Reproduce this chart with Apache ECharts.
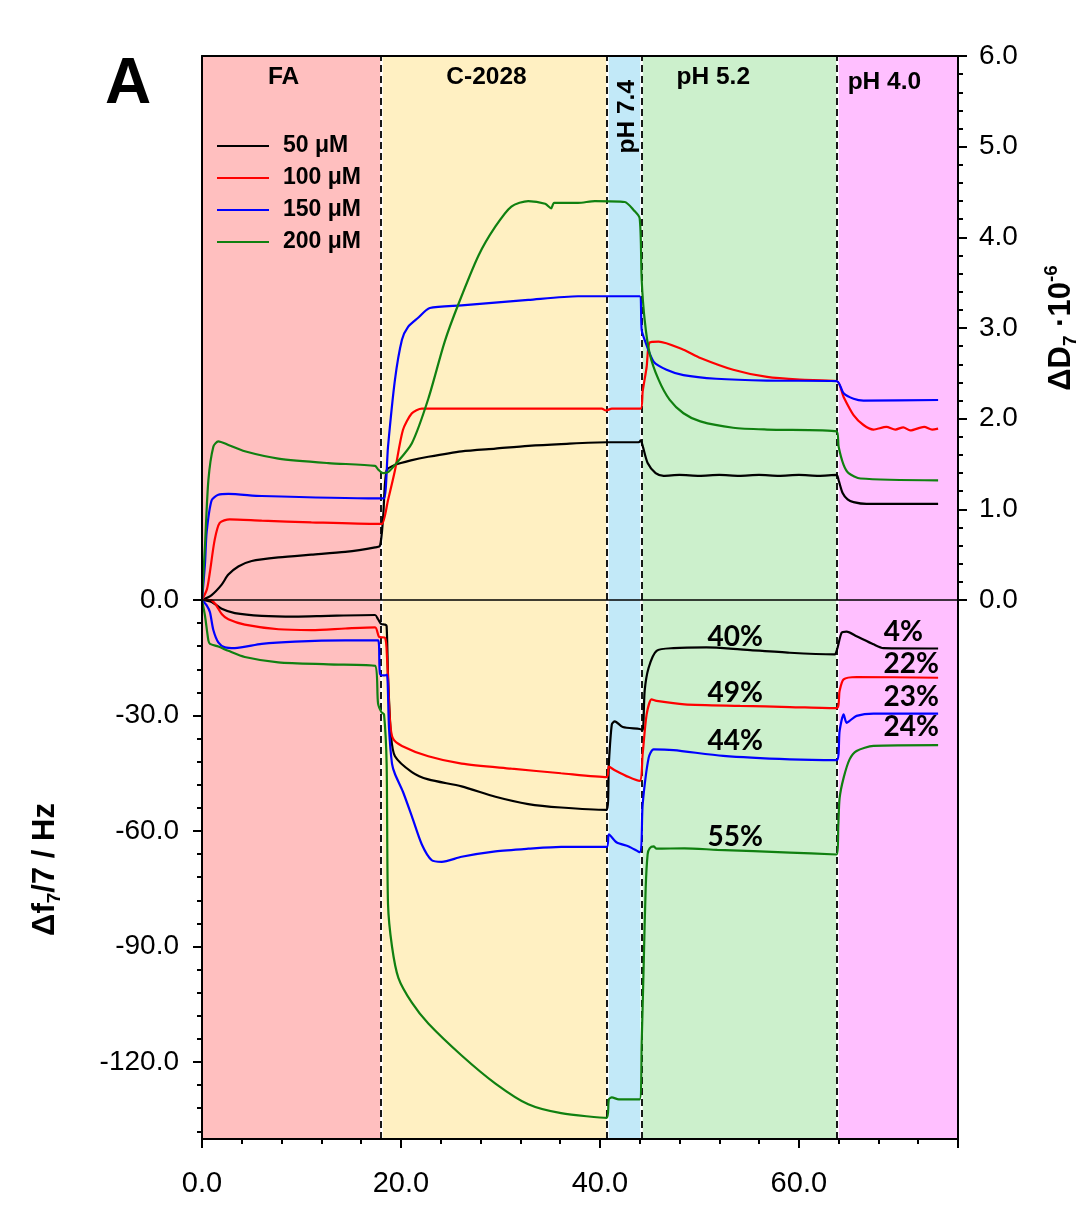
<!DOCTYPE html>
<html>
<head>
<meta charset="utf-8">
<script src="https://cdn.jsdelivr.net/npm/echarts@6/dist/echarts.min.js"></script>
<style>
html,body{margin:0;padding:0;background:#fff;}
#chart{width:1079px;height:1218px;}
</style>
</head>
<body>
<div id="chart"></div>
<script>
// ---------- data ----------
const seriesNames = ['50 μM', '100 μM', '150 μM', '200 μM'];
const seriesColors = ['#000000', '#ff0000', '#0000ff', '#108010'];

const bandEdges = [0, 18, 40.7, 44.2, 63.85, 76];
const bandNames = ['FA', 'C-2028', 'pH 7.4', 'pH 5.2', 'pH 4.0'];
const bandColors = ['#ffbfbf', '#fff0c2', '#c2e9f8', '#ccf0cc', '#ffbfff'];
const bandLabelX = [8.2, 28.6, 42.7, 51.4, 68.6];
const bandLabelY = [5.77, 5.77, 5.33, 5.77, 5.71];
const bandLabelRotate = [0, 0, 90, 0, 0];

const xTicks = [0, 20, 40, 60];
const dTicks = [0, 1, 2, 3, 4, 5, 6];
const fTicks = [0, -30, -60, -90, -120];
const fMinorTicks = [-6, -12, -18, -24, -36, -42, -48, -54, -66, -72, -78, -84, -96, -102, -108, -114, -126, -132, -138];

// dissipation ΔD7 (·10^-6), [time, value]
const D50 = [[0,0],[0.97,0.055],[1.98,0.17],[2.65,0.28],[3.65,0.37],[5.0,0.43],[7.7,0.47],[11.0,0.50],[14.4,0.53],[17.4,0.58],[17.9,0.60],[18.2,0.9],[18.56,1.43],[19.4,1.49],[21,1.54],[22.75,1.58],[26.1,1.64],[29.5,1.67],[32.8,1.70],[36.1,1.72],[40.7,1.74],[43.9,1.74],[44.1,1.76],[44.3,1.70],[44.8,1.51],[45.6,1.40],[46.4,1.37],[48,1.38],[50,1.37],[52,1.38],[54,1.37],[56,1.38],[58,1.37],[60,1.38],[62,1.37],[63.8,1.38],[64.0,1.32],[64.4,1.18],[64.9,1.11],[65.5,1.08],[66.8,1.06],[70,1.06],[74,1.06]];
const D100 = [[0,0],[0.5,0.12],[0.77,0.29],[1.27,0.66],[1.78,0.85],[2.78,0.89],[6.0,0.875],[11.0,0.857],[17.7,0.84],[18.1,0.84],[18.7,1.10],[19.4,1.43],[20.2,1.875],[21.1,2.06],[22.1,2.11],[26.1,2.11],[40.2,2.11],[40.6,2.09],[41.2,2.11],[44.1,2.11],[44.3,2.3],[44.7,2.57],[45.0,2.84],[45.9,2.85],[48.4,2.76],[50.1,2.67],[53.4,2.54],[56.8,2.46],[60.1,2.43],[63.8,2.415],[64.5,2.24],[65.5,2.04],[66.5,1.93],[67.5,1.88],[68.8,1.91],[69.7,1.88],[70.5,1.905],[71.2,1.87],[72.6,1.91],[73.4,1.88],[74,1.89]];
const D150 = [[0,0],[0.3,0.4],[0.47,0.75],[0.97,1.10],[1.64,1.16],[2.65,1.17],[6.0,1.147],[17.7,1.12],[18.3,1.12],[18.7,1.69],[19.4,2.43],[20.1,2.87],[20.7,3.01],[21.7,3.11],[22.9,3.22],[26.1,3.25],[32.8,3.31],[37.8,3.35],[44.0,3.35],[44.2,2.98],[44.5,2.87],[45.4,2.63],[46.7,2.54],[48.4,2.48],[51.7,2.44],[56.8,2.42],[63.8,2.415],[64.5,2.28],[65.5,2.22],[66.5,2.20],[74,2.206]];
const D200 = [[0,0],[0.3,0.6],[0.64,1.32],[1.14,1.69],[1.64,1.75],[2.65,1.71],[4.3,1.64],[7.67,1.56],[12.7,1.51],[17.4,1.48],[17.7,1.44],[18.2,1.40],[18.7,1.41],[19.4,1.49],[21.1,1.73],[22.75,2.22],[24.4,2.85],[25.8,3.27],[27.8,3.80],[29.5,4.12],[31.1,4.34],[32.8,4.40],[34.5,4.37],[35.1,4.32],[35.4,4.38],[37.8,4.38],[39.5,4.40],[42.5,4.39],[43.4,4.30],[44.0,4.21],[44.2,3.53],[44.5,3.09],[45.0,2.72],[45.9,2.43],[47.0,2.21],[48.4,2.06],[50.1,1.97],[53.4,1.90],[56.8,1.88],[63.8,1.86],[64.0,1.69],[64.5,1.49],[65.0,1.40],[66.2,1.34],[74,1.32]];

// frequency Δf7/7 (Hz), [time, value]
const F50 = [[0,0],[0.97,-0.5],[1.98,-2.3],[3.3,-3.4],[6.0,-4.1],[9.35,-4.3],[12.7,-4.1],[17.4,-3.9],[17.7,-5.0],[18.0,-6.2],[18.4,-6.4],[18.56,-6.8],[18.7,-19.6],[19.0,-35.2],[19.4,-40.6],[21.1,-44.7],[22.75,-46.6],[26.1,-48.4],[29.5,-51.1],[32.8,-53.0],[36.1,-53.9],[40.7,-54.5],[40.9,-42.5],[41.2,-32.3],[41.5,-31.5],[42.3,-33.0],[44.0,-33.5],[44.3,-33.8],[44.5,-23.6],[44.9,-17.6],[45.7,-13.2],[47.4,-12.5],[50.7,-12.3],[54.1,-12.8],[59.1,-13.7],[63.6,-14.1],[63.85,-12.8],[64.3,-8.5],[64.8,-8.2],[65.8,-9.4],[67.5,-11.5],[68.5,-12.5],[74,-12.6]];
const F100 = [[0,0],[0.64,0.3],[1.3,-0.9],[2.0,-3.7],[2.65,-5.0],[4.3,-6.4],[7.7,-7.6],[11.0,-7.8],[14.4,-7.4],[17.4,-7.1],[17.8,-9.6],[18.4,-9.8],[18.6,-15],[18.9,-31.5],[19.2,-36],[20.1,-37.9],[22.75,-40.6],[26.1,-42.5],[31.1,-43.8],[36.1,-45],[40.7,-46.0],[40.9,-43.3],[41.5,-44.2],[42.9,-46.0],[44.0,-47.0],[44.3,-40],[44.7,-29.7],[45.2,-25.8],[45.7,-26.2],[48.5,-27.1],[54.1,-27.5],[59.1,-27.8],[63.8,-28.1],[64.1,-23.6],[64.5,-20.6],[65.8,-20.0],[74,-20.2]];
const F150 = [[0,0],[0.47,-1.4],[0.8,-3.2],[1.14,-7.8],[1.64,-11],[2.3,-12.3],[3.3,-12.5],[6.0,-11.4],[9.35,-10.8],[14.4,-10.5],[17.7,-10.5],[17.9,-19.2],[18.4,-19.6],[18.6,-19.4],[18.8,-33.3],[19.1,-42.5],[19.4,-45.2],[20.2,-49.8],[21.1,-56.2],[22.1,-63.5],[23.1,-67.6],[24.1,-68],[26.1,-66.7],[29.5,-65.3],[32.8,-64.6],[36.1,-64.1],[40.7,-64.1],[40.9,-60.9],[41.7,-63.0],[42.9,-64.0],[44.0,-65.5],[44.3,-53],[44.9,-41],[45.4,-38.8],[47.4,-39],[52.4,-40.5],[59.1,-41.4],[63.8,-41.6],[64.1,-34],[64.5,-29.7],[64.8,-31.9],[65.1,-31.4],[65.8,-30.1],[67.5,-29.5],[74,-29.5]];
const F200 = [[0,0],[0.3,-4.1],[0.64,-10.5],[0.8,-11.4],[1.64,-12.1],[2.65,-13.2],[4.3,-14.8],[7.67,-16.2],[12.7,-16.7],[17.4,-17.1],[17.7,-26.9],[18.06,-29.2],[18.3,-29.7],[18.56,-42.5],[18.7,-79],[19.1,-90],[19.75,-98.2],[21.1,-104.6],[22.75,-110],[26.1,-118.3],[29.5,-125.6],[32.8,-131],[36.1,-133.3],[40.7,-134.5],[40.9,-129.7],[41.2,-129.2],[41.9,-129.7],[44.0,-129.7],[44.2,-115],[44.4,-95],[44.6,-75],[44.8,-66],[45.0,-64.5],[45.4,-64.0],[45.7,-64.6],[48.5,-64.5],[51.8,-64.9],[59.1,-65.6],[63.8,-66.1],[63.97,-58.3],[64.1,-51.4],[64.5,-46.2],[65.1,-41.4],[65.8,-39.2],[67.5,-37.9],[74,-37.7]];

// percentage annotations
const pctLabels = ['40%', '49%', '44%', '55%', '4%', '22%', '23%', '24%'];
const pctX = [53.6, 53.6, 53.6, 53.6, 70.5, 71.3, 71.3, 71.3];
const pctY = [-9.6, -24.1, -36.6, -61.6, -8.2, -16.7, -25.2, -33.0];

// ---------- chart ----------
const FONT = '"Liberation Sans", Arial, sans-serif';
const chart = echarts.init(document.getElementById('chart'), null, {renderer: 'canvas'});

const dSeries = [D50, D100, D150, D200];
const fSeries = [F50, F100, F150, F200];

function bandAreas() {
  const out = [];
  for (let i = 0; i < bandNames.length; i++) {
    out.push([{xAxis: bandEdges[i], itemStyle: {color: bandColors[i]}}, {xAxis: bandEdges[i + 1]}]);
  }
  return out;
}
function boundaryLines() {
  const out = [];
  for (let i = 1; i < bandEdges.length - 1; i++) {
    out.push({xAxis: bandEdges[i], lineStyle: {color: '#ffffff', width: 2.5, type: 'solid'}});
  }
  for (let i = 1; i < bandEdges.length - 1; i++) {
    out.push({xAxis: bandEdges[i], lineStyle: {color: '#000000', width: 1.8, type: [7, 4]}});
  }
  return out;
}

const series = [];
[0, 1].forEach(g => {
  series.push({
    type: 'line', xAxisIndex: g === 0 ? 0 : 2, yAxisIndex: g === 0 ? 0 : 2,
    data: [], silent: true, z: 1,
    markArea: {silent: true, z: 1, data: bandAreas(), itemStyle: {opacity: 1}},
    markLine: {silent: true, z: 1, symbol: 'none', label: {show: false}, data: boundaryLines(), animation: false}
  });
});
seriesNames.forEach((n, i) => {
  series.push({
    name: n, type: 'line', xAxisIndex: 0, yAxisIndex: 0, data: dSeries[i],
    symbol: 'none', smooth: 0.25, z: 5,
    lineStyle: {color: seriesColors[i], width: 2.2}, itemStyle: {color: seriesColors[i]}
  });
  series.push({
    name: n, type: 'line', xAxisIndex: 2, yAxisIndex: 2, data: fSeries[i],
    symbol: 'none', smooth: 0.25, z: 5,
    lineStyle: {color: seriesColors[i], width: 2.2}, itemStyle: {color: seriesColors[i]}
  });
});
series.push({
  type: 'scatter', xAxisIndex: 0, yAxisIndex: 0, symbolSize: 1, silent: true, z: 6,
  itemStyle: {color: 'rgba(0,0,0,0)', opacity: 1},
  data: bandNames.map((n, i) => ({
    value: [bandLabelX[i], bandLabelY[i]], name: n,
    label: {rotate: bandLabelRotate[i]}
  })),
  label: {show: true, position: 'inside', formatter: p => p.name, color: '#000', opacity: 1,
    fontFamily: FONT, fontWeight: 'bold', fontSize: 24.5}
});
series.push({
  type: 'scatter', xAxisIndex: 2, yAxisIndex: 2, symbolSize: 1, silent: true, z: 6,
  itemStyle: {color: 'rgba(0,0,0,0)', opacity: 1},
  data: pctLabels.map((n, i) => ({value: [pctX[i], pctY[i]], name: n})),
  label: {show: true, position: 'inside', formatter: p => p.name, color: '#000', opacity: 1,
    fontFamily: 'Lato, "Open Sans", sans-serif', fontWeight: 'bold', fontSize: 28}
});

const axisLineStyle = {color: '#000', width: 2};
const labelFmt = v => v.toFixed(1);
const nameRich = {
  sub: {fontFamily: FONT, fontWeight: 'bold', fontSize: 19, verticalAlign: 'bottom', lineHeight: 19},
  sup: {fontFamily: FONT, fontWeight: 'bold', fontSize: 19, verticalAlign: 'top', lineHeight: 19}
};

const option = {
  animation: false,
  backgroundColor: '#ffffff',
  grid: [
    {left: 202, width: 756, top: 56, height: 544, containLabel: false, outerBoundsMode: 'none'},
    {left: 202, width: 756, top: 600, height: 539, containLabel: false, outerBoundsMode: 'none'}
  ],
  legend: {
    data: seriesNames, orient: 'vertical', left: 212, top: 129,
    icon: 'rect', itemWidth: 52, itemHeight: 2, itemGap: 8,
    textStyle: {fontFamily: FONT, fontWeight: 'bold', fontSize: 23, color: '#000', lineHeight: 24, padding: [0, 0, 0, 9]},
    selectedMode: false
  },
  xAxis: [
    {type: 'value', gridIndex: 0, position: 'bottom', min: 0, max: 76, z: 10,
      axisLine: {show: true, onZero: false, lineStyle: {color: '#000', width: 1.5}},
      axisTick: {show: false}, axisLabel: {show: false}, splitLine: {show: false}},
    {type: 'value', gridIndex: 0, position: 'top', min: 0, max: 76, z: 10,
      axisLine: {show: true, onZero: false, lineStyle: axisLineStyle},
      axisTick: {show: false}, axisLabel: {show: false}, splitLine: {show: false}},
    {type: 'value', gridIndex: 1, position: 'bottom', min: 0, max: 76, interval: 20, z: 10,
      axisLine: {show: true, onZero: false, lineStyle: axisLineStyle},
      axisTick: {show: true, inside: false, length: 9, lineStyle: {color: '#000', width: 2}},
      minorTick: {show: true, splitNumber: 5, length: 5, lineStyle: {color: '#000', width: 2}},
      axisLabel: {show: true, formatter: labelFmt, customValues: xTicks, fontFamily: FONT, fontSize: 29, color: '#000', margin: 30},
      splitLine: {show: false}}
  ],
  yAxis: [
    {type: 'value', gridIndex: 0, position: 'right', min: 0, max: 6, interval: 1, z: 10,
      axisLine: {show: true, onZero: false, lineStyle: axisLineStyle},
      axisTick: {show: true, inside: false, length: 9, lineStyle: {color: '#000', width: 2}},
      minorTick: {show: true, splitNumber: 5, length: 5, lineStyle: {color: '#000', width: 2}},
      axisLabel: {show: true, formatter: labelFmt, fontFamily: FONT, fontSize: 28, color: '#000', margin: 21},
      splitLine: {show: false},
      name: 'ΔD{sub|7} ·10{sup|-6}', nameLocation: 'middle', nameGap: 84, nameRotate: 90,
      nameTextStyle: {fontFamily: FONT, fontWeight: 'bold', fontSize: 31, color: '#000', lineHeight: 38, rich: nameRich}},
    {type: 'value', gridIndex: 0, position: 'left', min: 0, max: 6, z: 10,
      axisLine: {show: true, onZero: false, lineStyle: axisLineStyle},
      axisTick: {show: false}, axisLabel: {show: false}, splitLine: {show: false}},
    {type: 'value', gridIndex: 1, position: 'left', min: -140, max: 0, z: 10,
      axisLine: {show: true, onZero: false, lineStyle: axisLineStyle},
      axisTick: {show: true, inside: false, length: 9, customValues: fTicks, lineStyle: {color: '#000', width: 2}},
      axisLabel: {show: true, customValues: fTicks, formatter: labelFmt, fontFamily: FONT, fontSize: 28, color: '#000', margin: 23},
      splitLine: {show: false},
      name: 'Δf{sub|7}/7 / Hz', nameLocation: 'middle', nameGap: 138, nameRotate: 90,
      nameTextStyle: {fontFamily: FONT, fontWeight: 'bold', fontSize: 31, color: '#000', lineHeight: 38, rich: nameRich}},
    {type: 'value', gridIndex: 1, position: 'left', min: -140, max: 0, z: 10,
      axisLine: {show: false},
      axisTick: {show: true, inside: false, length: 5, customValues: fMinorTicks, lineStyle: {color: '#000', width: 2}},
      axisLabel: {show: false, customValues: fMinorTicks}, splitLine: {show: false}},
    {type: 'value', gridIndex: 1, position: 'right', min: -140, max: 0, z: 10,
      axisLine: {show: true, onZero: false, lineStyle: axisLineStyle},
      axisTick: {show: false}, axisLabel: {show: false}, splitLine: {show: false}}
  ],
  graphic: [
    {type: 'text', left: 105, top: 53, z: 20,
      style: {text: 'A', fill: '#000', font: 'bold 64px "Liberation Sans", Arial, sans-serif'}}
  ],
  series: series
};
chart.setOption(option);
</script>
</body>
</html>
